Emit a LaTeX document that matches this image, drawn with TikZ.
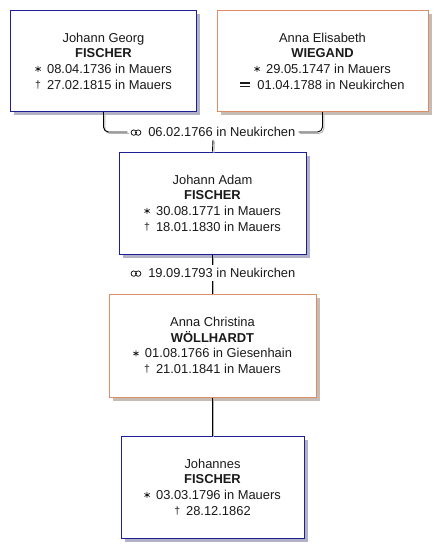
\documentclass[tikz,border=0pt]{standalone}
\usepackage{fontspec}
\setmainfont{Liberation Sans}
\usetikzlibrary{shadows}
\definecolor{mblue}{HTML}{1E1E96}
\definecolor{morange}{HTML}{DC8E68}
\definecolor{shblue}{HTML}{B2B2C6}
\definecolor{shorange}{HTML}{C6BCB4}
\definecolor{txt}{HTML}{1A1A1A}
\newcommand\birthsym{\tikz[baseline={(0pt,-4.5pt)}]{\draw[line width=0.75pt, txt] (0pt,-3pt) -- (0pt,3pt) (-2.6pt,-1.5pt) -- (2.6pt,1.5pt) (-2.6pt,1.5pt) -- (2.6pt,-1.5pt);}\hspace{6pt}}
\newcommand\deathsym{{\fontsize{10.5}{10.5}\selectfont\raisebox{0.8pt}{†}}\hspace{6pt}}
\newcommand\burialsym{\rule[2pt]{10pt}{1.3pt}\llap{\rule[5.4pt]{10pt}{1.3pt}}\hspace{7pt}}
\newcommand\marrsym{\tikz[baseline={(0pt,-4pt)}]{\draw[line width=0.8pt, txt] (0pt,0pt) circle[radius=2.7pt] (4.4pt,0pt) circle[radius=2.7pt];}\hspace{7pt}}
\tikzset{
  person/.style={draw, line width=1pt, fill=white, align=center, inner sep=0pt,
    text=txt, font=\fontsize{12.9}{15.7}\selectfont},
  male/.style={person, draw=mblue, drop shadow={fill=shblue, opacity=1, shadow xshift=3.5pt, shadow yshift=-3.5pt}},
  female/.style={person, draw=morange, drop shadow={fill=shorange, opacity=1, shadow xshift=3.5pt, shadow yshift=-3.5pt}},
  conn/.style={line width=0.9pt, draw=black, preaction={draw=black!30, line width=0.9pt, transform canvas={shift={(1.4pt,-1.4pt)}}}},
  marrlabel/.style={fill=white, text=txt, font=\fontsize{12.9}{15}\selectfont, inner xsep=3pt, inner ysep=3pt}
}
\begin{document}
\begin{tikzpicture}[x=1pt,y=-1pt]
\useasboundingbox[fill=white] (0,0) rectangle (447,558);
\node[male, minimum width=186pt, minimum height=101pt] (b1) at (103.5,61)
  {Johann Georg\\ \textbf{FISCHER}\\ \birthsym 08.04.1736 in Mauers\\ \deathsym 27.02.1815 in Mauers};
\node[female, minimum width=211pt, minimum height=101pt] (b2) at (322.5,61)
  {Anna Elisabeth\\ \textbf{WIEGAND}\\ \birthsym 29.05.1747 in Mauers\\ \burialsym 01.04.1788 in Neukirchen};
\node[male, minimum width=187pt, minimum height=102pt] (b3) at (212.5,203)
  {Johann Adam\\ \textbf{FISCHER}\\ \birthsym 30.08.1771 in Mauers\\ \deathsym 18.01.1830 in Mauers};
\node[female, minimum width=207pt, minimum height=103pt] (b4) at (212.5,345.5)
  {Anna Christina\\ \textbf{WÖLLHARDT}\\ \birthsym 01.08.1766 in Giesenhain\\ \deathsym 21.01.1841 in Mauers};
\node[male, minimum width=183pt, minimum height=102pt] (b5) at (212.5,487)
  {Johannes\\ \textbf{FISCHER}\\ \birthsym 03.03.1796 in Mauers\\ \deathsym 28.12.1862};

\node[marrlabel] (m1) at (213,132) {\marrsym 06.02.1766 in Neukirchen};
\draw[conn, rounded corners=5pt] (b1.south) |- (m1.west);
\draw[conn, rounded corners=5pt] (b2.south) |- (m1.east);
\draw[conn] (m1.south) -- (b3.north);

\draw[conn] (b3.south) -- (b4.north);
\node[marrlabel] (m2) at (213,273) {\marrsym 19.09.1793 in Neukirchen};
\draw[conn] (b4.south) -- (b5.north);
\end{tikzpicture}
\end{document}
